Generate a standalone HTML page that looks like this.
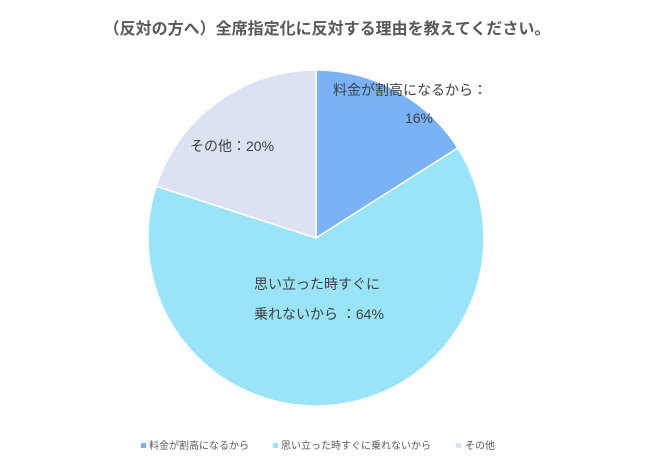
<!DOCTYPE html>
<html><head><meta charset="utf-8"><style>
body{margin:0;background:#fff;}
svg text{font-family:"Liberation Sans","Noto Sans CJK JP",sans-serif;}
</style></head><body>
<svg width="645" height="464" viewBox="0 0 645 464" xmlns="http://www.w3.org/2000/svg">
<rect width="645" height="464" fill="#fff"/>
<text x="327" y="34" font-size="16" fill="#595959" text-anchor="middle" font-weight="bold">（反対の方へ）全席指定化に反対する理由を教えてください。</text>
<g stroke="#fff" stroke-width="1.5">
<path d="M316,238 L316,70 A168,168 0 0 1 457.8,148 Z" fill="#7ab2f7"/>
<path d="M316,238 L457.8,148 A168,168 0 1 1 156.2,186.1 Z" fill="#9ae4fa"/>
<path d="M316,238 L156.2,186.1 A168,168 0 0 1 316,70 Z" fill="#dce2f4"/>
</g>
<g font-size="14" fill="#404040">
<text x="333" y="95">料金が割高になるから：</text>
<text x="419" y="123" text-anchor="middle">16%</text>
<text x="190" y="151">その他：20%</text>
<text x="254" y="289">思い立った時すぐに</text>
<text x="254" y="319">乗れないから ：64%</text>
</g>
<g font-size="10" fill="#595959">
<rect x="141" y="443" width="5" height="5" fill="#7ab2f7"/>
<text x="149" y="449">料金が割高になるから</text>
<rect x="273" y="443" width="5" height="5" fill="#9ae4fa"/>
<text x="281" y="449">思い立った時すぐに乗れないから</text>
<rect x="456" y="443" width="5" height="5" fill="#dce2f4"/>
<text x="465" y="449">その他</text>
</g>
</svg>
</body></html>
